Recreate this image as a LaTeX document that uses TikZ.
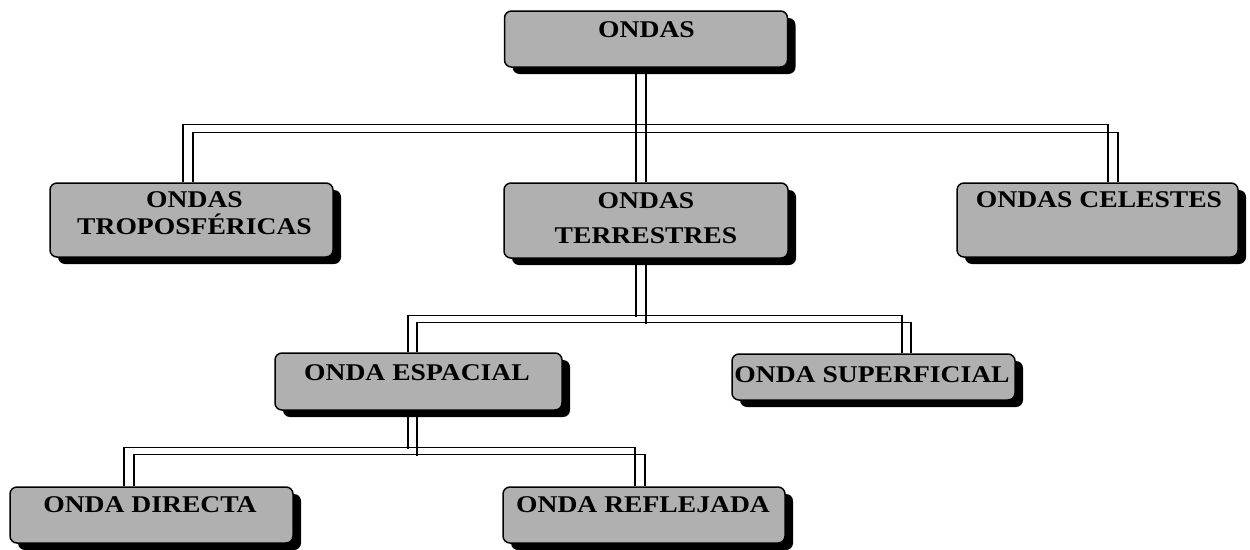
\documentclass[tikz,border=0pt]{standalone}
\usepackage{fontspec}
\newfontfamily\boxfont{Liberation Serif}[FakeStretch=1.15]
\usetikzlibrary{calc,shadows}
\definecolor{boxgray}{RGB}{176,176,176}
\tikzset{
  wbox/.style={draw=black, line width=1.5pt, fill=boxgray, rounded corners=7pt,
    inner sep=0pt, drop shadow={shadow xshift=8pt, shadow yshift=-7pt, opacity=1, fill=black}},
  lbl/.style={anchor=base, inner sep=0pt, font=\boxfont\bfseries\fontsize{24}{28}\selectfont, text=black},
  link/.style={draw=black, line width=1.3pt}
}
\begin{document}
\begin{tikzpicture}[x=1pt, y=-1pt]
\useasboundingbox (0,0) rectangle (1250,549);
% boxes
\node[wbox, minimum width=283pt, minimum height=56pt] (ondas) at (646,39) {};
\node[wbox, minimum width=283pt, minimum height=74pt] (tropo) at (191.5,220) {};
\node[wbox, minimum width=284pt, minimum height=75pt] (terr) at (646,220.5) {};
\node[wbox, minimum width=281pt, minimum height=74pt] (cel) at (1097.5,220) {};
\node[wbox, minimum width=287pt, minimum height=57pt] (esp) at (418.5,381.5) {};
\node[wbox, minimum width=283pt, minimum height=46pt] (sup) at (873.5,377) {};
\node[wbox, minimum width=283pt, minimum height=56pt] (dir) at (151.5,515) {};
\node[wbox, minimum width=282pt, minimum height=56pt] (refl) at (644,515) {};
% connectors: level 1
\draw[link] ($(ondas.south)+(-10,0)$) -- ($(terr.north)+(-10,0)$);
\draw[link] (ondas.south) -- (terr.north);
\draw[link] ($(tropo.north)+(-8.5,0)$) -- ++(0,-58) -| ($(cel.north)+(10.5,0)$);
\draw[link] ($(tropo.north)+(1.5,0)$) -- ++(0,-50) -| ($(cel.north)+(20.5,0)$);
% level 2
\draw[link] ($(terr.south)+(-10,0)$) -- ++(0,58);
\draw[link] (terr.south) -- ++(0,65);
\draw[link] ($(esp.north)+(-10.5,0)$) -- ++(0,-37) -| ($(sup.north)+(28.5,0)$);
\draw[link] ($(esp.north)+(-1.5,0)$) -- ++(0,-30) -| ($(sup.north)+(37.5,0)$);
% level 3
\draw[link] ($(esp.south)+(-10.5,0)$) -- ++(0,38);
\draw[link] ($(esp.south)+(-1.5,0)$) -- ++(0,45);
\draw[link] ($(dir.north)+(-27.5,0)$) -- ++(0,-39) -| ($(refl.north)+(-9,0)$);
\draw[link] ($(dir.north)+(-17.5,0)$) -- ++(0,-32) -| ($(refl.north)+(1,0)$);
% labels
\node[lbl] (tOndas) at (646.5,37) {ONDAS};
\node[lbl] (tTropoA) at (194.5,207) {ONDAS};
\node[lbl] (tTropoB) at (194.5,234) {TROPOSFÉRICAS};
\node[lbl] (tTerrA) at (646,208) {ONDAS};
\node[lbl] (tTerrB) at (646,243) {TERRESTRES};
\node[lbl] (tCel) at (1099,207) {ONDAS CELESTES};
\node[lbl] (tEsp) at (417,380) {ONDA ESPACIAL};
\node[lbl] (tSup) at (872,382) {ONDA SUPERFICIAL};
\node[lbl] (tDir) at (150,512) {ONDA DIRECTA};
\node[lbl] (tRefl) at (643,512) {ONDA REFLEJADA};
\end{tikzpicture}
\end{document}
